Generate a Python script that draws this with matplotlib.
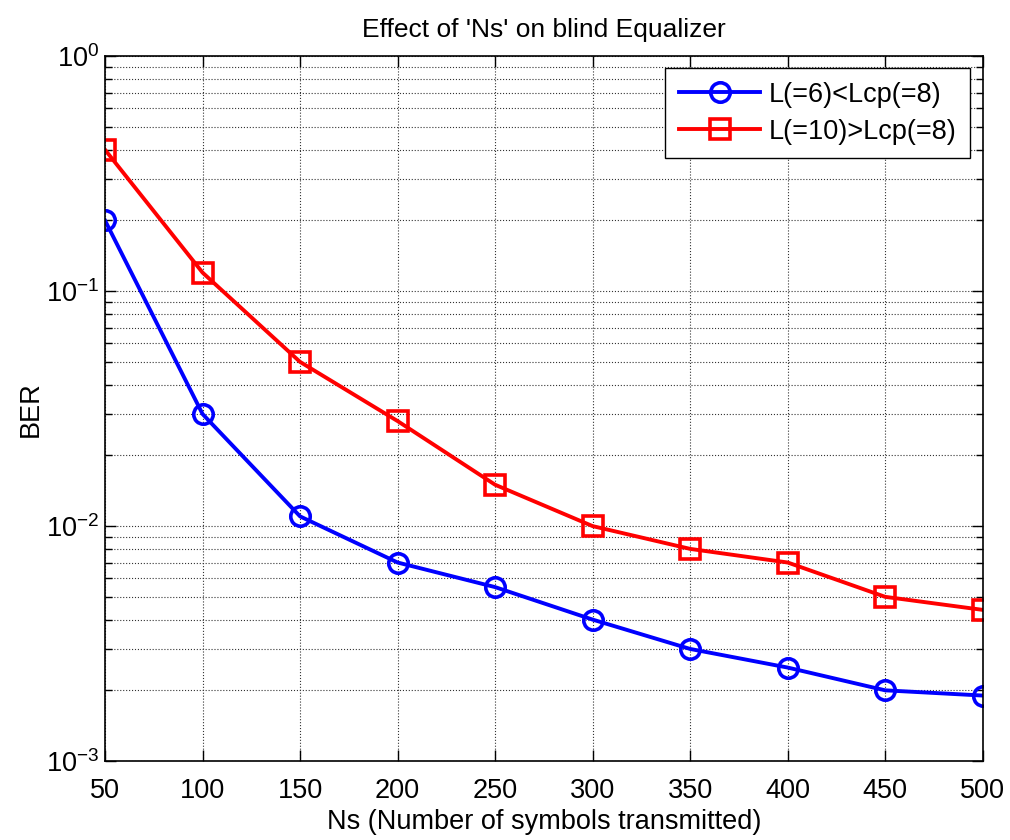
import matplotlib
matplotlib.use("Agg")
import matplotlib.pyplot as plt
from matplotlib.ticker import LogLocator, NullFormatter, FixedLocator, FuncFormatter
import numpy as np

plt.rcParams['font.family'] = ['Liberation Sans', 'DejaVu Sans']
plt.rcParams['mathtext.fontset'] = 'custom'
plt.rcParams['mathtext.rm'] = 'Liberation Sans'

# Number of transmitted symbols
ns = [50, 100, 150, 200, 250, 300, 350, 400, 450, 500]

# Bit error rate for each channel-length case
ber_short = [0.2, 0.03, 0.011, 0.007, 0.0055, 0.004, 0.003, 0.0025, 0.002, 0.0019]
ber_long = [0.4, 0.12, 0.05, 0.028, 0.015, 0.01, 0.008, 0.007, 0.005, 0.0044]

labels = ['L(=6)<Lcp(=8)', 'L(=10)>Lcp(=8)']
x_ticks = [50, 100, 150, 200, 250, 300, 350, 400, 450, 500]

fig = plt.figure(figsize=(10.10, 8.40), dpi=100)
ax = fig.add_axes([0.104, 0.094, 0.869, 0.839])

ax.semilogy(ns, ber_short, color='#0000ff', lw=2.8, marker='o', ms=14,
            mfc='none', mec='#0000ff', mew=2.6, label=labels[0])
ax.semilogy(ns, ber_long, color='#ff0000', lw=2.8, marker='s', ms=14,
            mfc='none', mec='#ff0000', mew=2.6, label=labels[1])

ax.set_xlim(50, 500)
ax.set_ylim(1e-3, 1)
ax.xaxis.set_major_locator(FixedLocator(x_ticks))
ax.yaxis.set_major_locator(LogLocator(base=10, numticks=10))
ax.yaxis.set_minor_locator(LogLocator(base=10, subs=range(2, 10), numticks=20))
ax.yaxis.set_minor_formatter(NullFormatter())
ax.yaxis.set_major_formatter(FuncFormatter(
    lambda v, p: r'$\mathregular{10^{%d}}$' % int(round(np.log10(v)))))

ax.grid(True, which='major', axis='both', linestyle=':', color='#333333', lw=0.8)
ax.grid(True, which='minor', axis='y', linestyle=':', color='#333333', lw=0.8)

ax.tick_params(which='both', direction='in', top=True, right=True,
               labelsize=19.5, width=1.0, colors='black')
ax.tick_params(which='major', length=8)
ax.tick_params(which='minor', length=5)
ax.tick_params(axis='x', pad=12)
ax.tick_params(axis='y', pad=4)
for s in ax.spines.values():
    s.set_linewidth(1.2)

ax.set_title("Effect of 'Ns' on blind Equalizer", fontsize=19, pad=14)
ax.set_xlabel('Ns (Number of symbols transmitted)', fontsize=19.5, labelpad=4)
ax.set_ylabel('BER', fontsize=19.5, labelpad=2)

leg = ax.legend(loc='upper right', fontsize=19.5, fancybox=False, framealpha=1,
                edgecolor='black', borderpad=0.5, handlelength=3.0,
                handletextpad=0.3, labelspacing=0.4, borderaxespad=0,
                bbox_to_anchor=(0.985, 0.983))
leg.get_frame().set_linewidth(1.0)

fig.savefig('out.png', dpi=100)
